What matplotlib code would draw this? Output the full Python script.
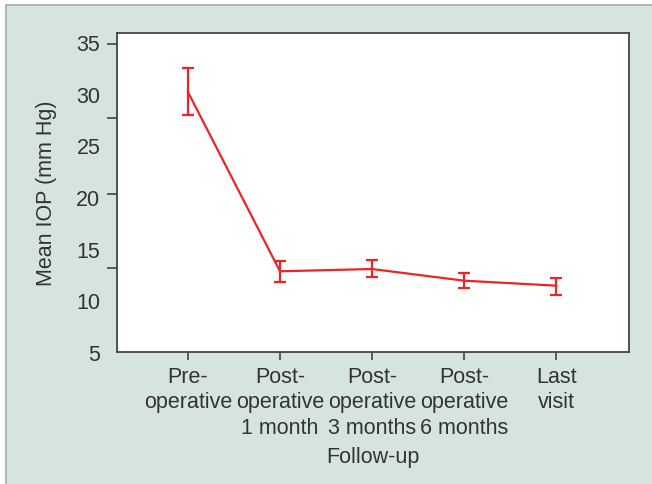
import matplotlib
matplotlib.use("Agg")
import matplotlib.pyplot as plt
from matplotlib.patches import Rectangle
import numpy as np

categories = ["Pre-\noperative", "Post-\noperative\n1 month", "Post-\noperative\n3 months",
              "Post-\noperative\n6 months", "Last\nvisit"]
mean_iop = [30.17, 12.81, 13.03, 11.90, 11.42]
err_low = [27.97, 11.75, 12.23, 11.22, 10.52]
err_high = [32.46, 13.78, 13.87, 12.61, 12.16]
ytick_labels = [5, 10, 15, 20, 25, 30, 35]
ytick_marks = [5.0, 13.1, 20.3, 27.6, 34.8]

plt.rcParams['font.family'] = ['Liberation Sans', 'DejaVu Sans']
bg = '#d6e4e1'
txt = '#333333'
red = '#ee2424'
fs = 15.5

fig = plt.figure(figsize=(6.52, 4.85), dpi=100)
fig.patch.set_facecolor('white')
fig.add_artist(Rectangle((6/652, -0.1), 1.2, (485-6)/485 + 0.1, transform=fig.transFigure,
                         facecolor=bg, edgecolor='#aaaaaa', linewidth=1.2, zorder=-10))

ax = fig.add_axes([117/652, (485-353)/485, 512/652, 319/485])
ax.set_zorder(1)
ax.set_facecolor('white')

x = np.arange(len(categories))
m = np.array(mean_iop)
yerr = np.vstack([m - np.array(err_low), np.array(err_high) - m])
ax.errorbar(x, m, yerr=yerr, color=red, linewidth=1.6, elinewidth=1.6,
            capsize=4.5, capthick=1.6, zorder=3)

ax.set_xlim(-0.77, 4.79)
ax.set_ylim(5, 35.87)

ax.set_yticks(ytick_labels)
ax.set_yticklabels([str(v) for v in ytick_labels])
ax.set_yticks(ytick_marks, minor=True)
ax.tick_params(axis='y', which='major', length=0, pad=12, labelsize=fs, labelcolor=txt)
ax.tick_params(axis='y', which='minor', length=7, width=1.2, color='#444444')

ax.set_xticks(x)
ax.set_xticklabels(categories, linespacing=1.27)
ax.tick_params(axis='x', which='major', length=6, width=1.2, color='#444444',
               pad=4, labelsize=fs, labelcolor=txt)

for s in ax.spines.values():
    s.set_color('#444444')
    s.set_linewidth(1.3)

ax.set_xlabel("Follow-up", fontsize=fs, color=txt, labelpad=6)
ax.set_ylabel("Mean IOP (mm Hg)", fontsize=fs, color=txt, labelpad=14)

fig.savefig("out.png", dpi=100, facecolor=fig.get_facecolor())
